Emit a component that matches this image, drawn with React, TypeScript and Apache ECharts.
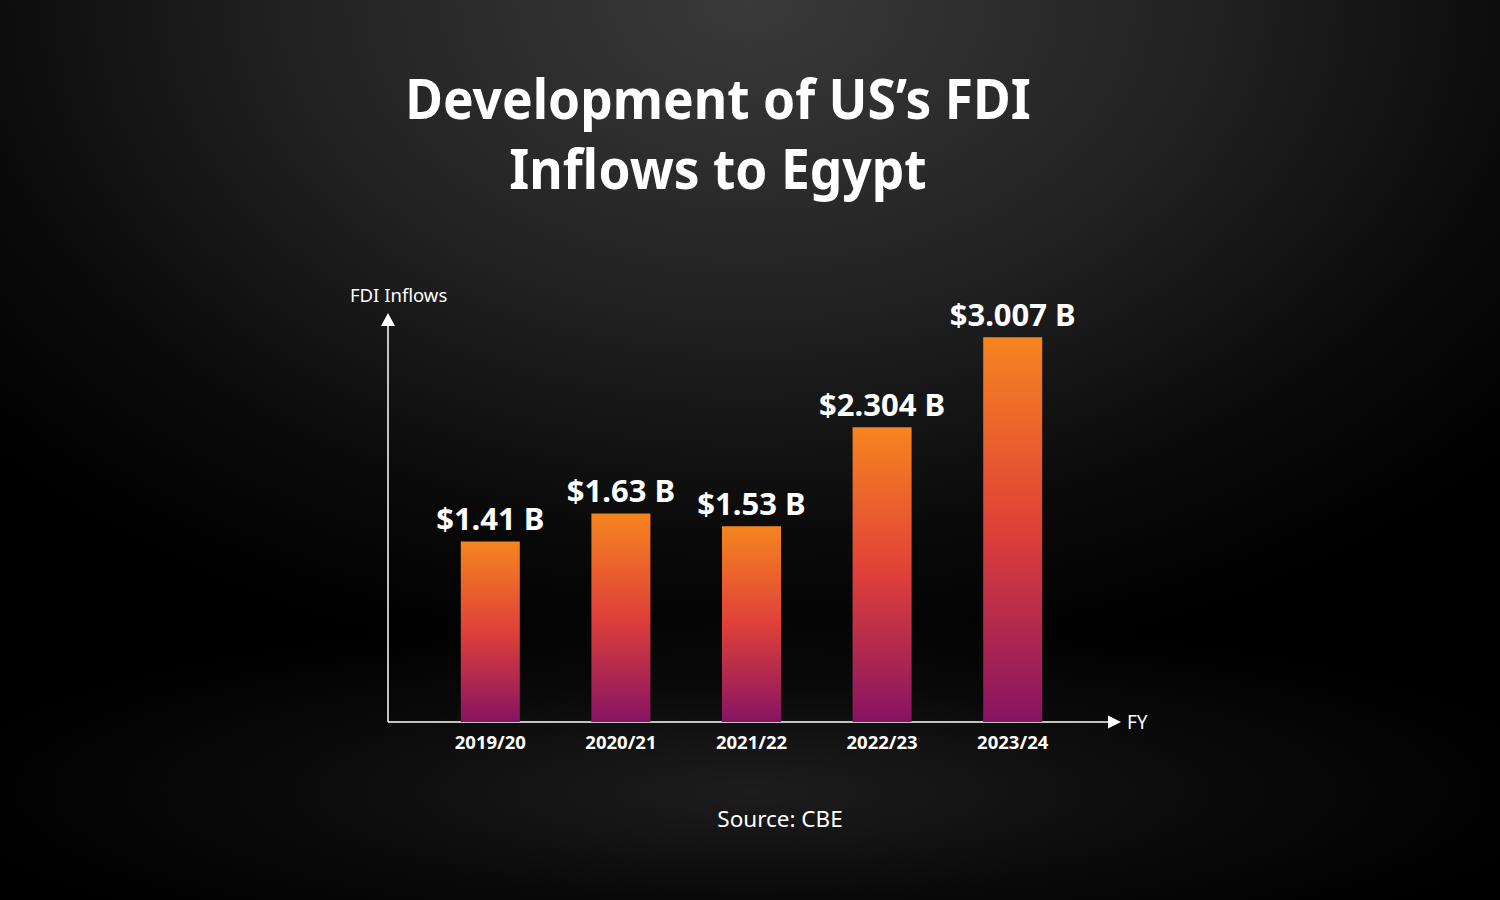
import React, { useEffect, useRef } from "react";
import * as echarts from "echarts";

const categories = ["2019/20", "2020/21", "2021/22", "2022/23", "2023/24"];
const values = [1.41, 1.63, 1.53, 2.304, 3.007];
const valueLabels = ["$1.41 B", "$1.63 B", "$1.53 B", "$2.304 B", "$3.007 B"];
const titleLines = ["Development of US\u2019s FDI", "Inflows to Egypt"];
const yAxisName = "FDI Inflows";
const xAxisName = "FY";
const sourceText = "Source: CBE";

const FONT = "'Noto Sans', sans-serif";

export default function App() {
  const ref = useRef<HTMLDivElement>(null);
  useEffect(() => {
    if (!ref.current) return;
    const chart = echarts.init(ref.current, null, { renderer: "svg" });
    const barGradient = new echarts.graphic.LinearGradient(0, 0, 0, 1, [
      { offset: 0, color: "#f6851f" },
      { offset: 0.5, color: "#df4039" },
      { offset: 1, color: "#871363" },
    ]);
    chart.setOption({
      animation: false,
      backgroundColor: "transparent",
      grid: { left: 425, right: 422, top: 319, bottom: 178, containLabel: false },
      xAxis: {
        type: "category",
        data: categories,
        axisLine: { show: false },
        axisTick: { show: false },
        axisLabel: {
          color: "#ffffff",
          fontFamily: FONT,
          fontWeight: "bold",
          fontSize: 18.5,
          margin: 10,
        },
      },
      yAxis: {
        type: "value",
        min: 0,
        max: 3.15,
        axisLine: { show: false },
        axisTick: { show: false },
        axisLabel: { show: false },
        splitLine: { show: false },
      },
      series: [
        {
          type: "bar",
          barWidth: 59,
          data: values.map((v) => ({ value: v, itemStyle: { color: barGradient } })),
          label: {
            show: true,
            position: "top",
            distance: 8,
            color: "#ffffff",
            fontFamily: FONT,
            fontWeight: "bold",
            fontSize: 31,
            formatter: (p: any) => valueLabels[p.dataIndex],
          },
        },
      ],
      graphic: [
        {
          type: "text",
          x: 718,
          y: 97,
          scaleX: 0.92,
          style: {
            text: titleLines[0],
            fill: "#ffffff",
            font: `bold 56px ${FONT}`,
            textAlign: "center",
            textVerticalAlign: "middle",
          },
        },
        {
          type: "text",
          x: 718,
          y: 167,
          scaleX: 0.92,
          style: {
            text: titleLines[1],
            fill: "#ffffff",
            font: `bold 56px ${FONT}`,
            textAlign: "center",
            textVerticalAlign: "middle",
          },
        },
        {
          type: "line",
          shape: { x1: 388, y1: 722, x2: 1110, y2: 722 },
          style: { stroke: "#ffffff", lineWidth: 1.5 },
        },
        {
          type: "polygon",
          shape: { points: [[1108, 715.5], [1121, 722], [1108, 728.5]] },
          style: { fill: "#ffffff" },
        },
        {
          type: "line",
          shape: { x1: 388, y1: 722, x2: 388, y2: 322 },
          style: { stroke: "#ffffff", lineWidth: 1.5 },
        },
        {
          type: "polygon",
          shape: { points: [[381, 326], [388, 313], [395, 326]] },
          style: { fill: "#ffffff" },
        },
        {
          type: "text",
          x: 350,
          y: 294,
          style: {
            text: yAxisName,
            fill: "#ffffff",
            font: `18.5px ${FONT}`,
            textAlign: "left",
            textVerticalAlign: "middle",
          },
        },
        {
          type: "text",
          x: 1127,
          y: 722,
          style: {
            text: xAxisName,
            fill: "#ffffff",
            font: `19px ${FONT}`,
            textAlign: "left",
            textVerticalAlign: "middle",
          },
        },
        {
          type: "text",
          x: 780,
          y: 818,
          style: {
            text: sourceText,
            fill: "#ffffff",
            font: `22.5px ${FONT}`,
            textAlign: "center",
            textVerticalAlign: "middle",
          },
        },
      ],
    });
    return () => chart.dispose();
  }, []);

  return (
    <div
      style={{
        position: "absolute",
        left: 0,
        top: 0,
        width: 1500,
        height: 900,
        background:
          "radial-gradient(ellipse 55% 20% at 50% 88%, rgba(34,34,34,0.85) 0%, rgba(18,18,18,0.5) 60%, rgba(0,0,0,0) 100%), radial-gradient(ellipse 75% 85% at 50% 0%, #3a3a3a 0%, #222222 40%, #0a0a0a 70%, #000000 90%)",
      }}
    >
      <div ref={ref} style={{ width: 1500, height: 900 }} />
    </div>
  );
}
